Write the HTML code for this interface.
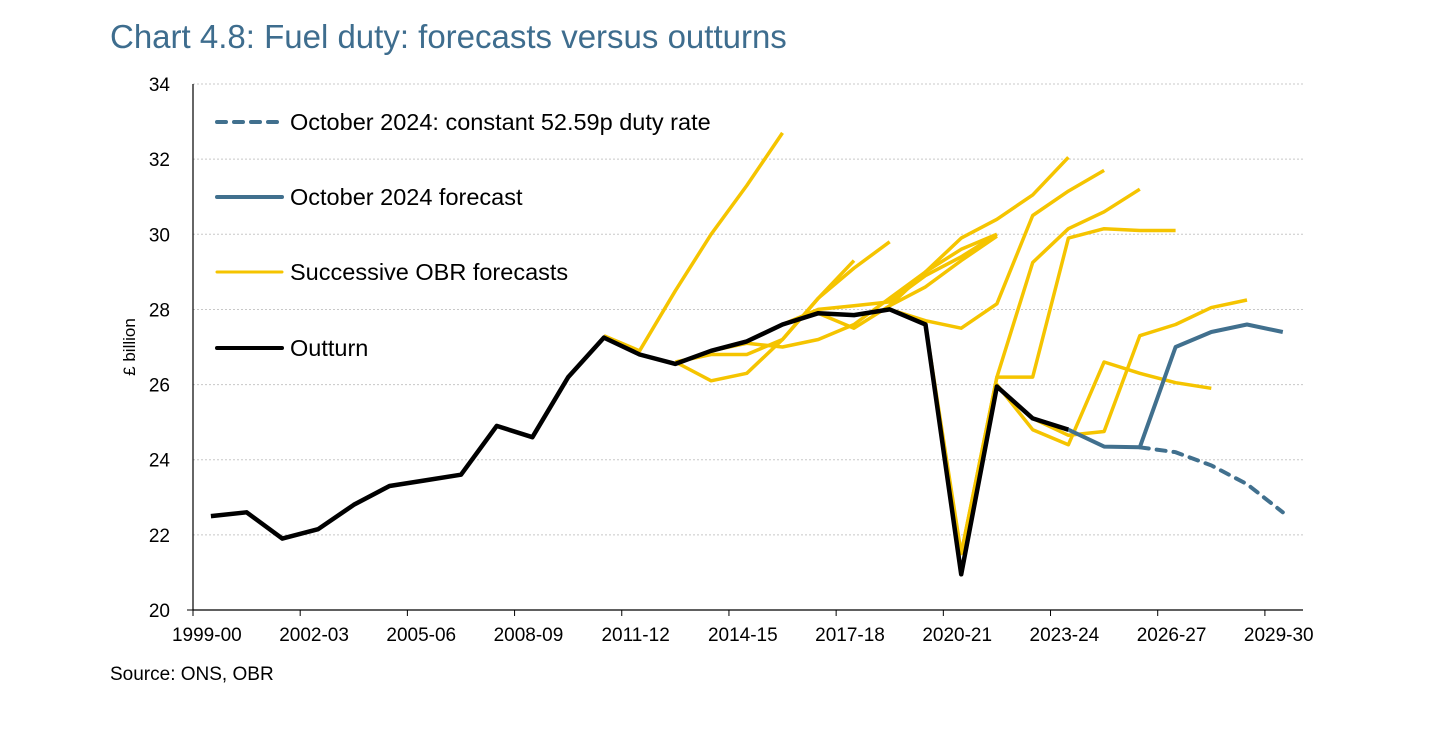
<!DOCTYPE html>
<html><head><meta charset="utf-8"><style>
body{margin:0;background:#fff;font-family:"Liberation Sans",sans-serif;}
</style></head><body>
<svg width="1456" height="742" viewBox="0 0 1456 742" xmlns="http://www.w3.org/2000/svg">
<text x="110" y="48" font-size="33" fill="#3e6d8e" font-family="Liberation Sans, sans-serif">Chart 4.8: Fuel duty: forecasts versus outturns</text>
<g id="grid"></g>
<g id="axes"></g>
<g id="series"></g>
<g id="legend"></g>
<text x="110" y="680" font-size="19" fill="#000">Source: ONS, OBR</text>
<text transform="translate(135,347) rotate(-90)" text-anchor="middle" font-size="17" fill="#000">£ billion</text>
</svg>
<script>
const categories = ["1999-00","2000-01","2001-02","2002-03","2003-04","2004-05","2005-06","2006-07","2007-08","2008-09","2009-10","2010-11","2011-12","2012-13","2013-14","2014-15","2015-16","2016-17","2017-18","2018-19","2019-20","2020-21","2021-22","2022-23","2023-24","2024-25","2025-26","2026-27","2027-28","2028-29","2029-30"];
const yTicks = [20,22,24,26,28,30,32,34];
const xTickLabels = ["1999-00","2002-03","2005-06","2008-09","2011-12","2014-15","2017-18","2020-21","2023-24","2026-27","2029-30"];
const outturn = [22.5,22.6,21.9,22.15,22.8,23.3,23.45,23.6,24.9,24.6,26.2,27.25,26.8,26.55,26.9,27.15,27.6,27.9,27.85,28.0,27.6,20.95,25.95,25.1,24.8];
const outturnStart = 0;
const oct2024 = [24.8,24.35,24.33,27.0,27.4,27.6,27.4];
const oct2024Start = 24;
const constantDuty = [24.33,24.2,23.85,23.35,22.6];
const constantDutyStart = 26;
const forecastStarts = [11,13,13,14,16,17,19,19,20,21,21,23];
const forecastValues = [
 [27.3,26.9,28.5,30.0,31.3,32.7],
 [26.6,26.1,26.3,27.2,28.3,29.3],
 [26.6,26.8,26.8,27.2,28.3,29.1,29.8],
 [26.9,27.1,27.0,27.2,27.6,28.3,29.0,29.6,30.0],
 [27.6,28.0,28.1,28.2,28.9,29.4,30.0],
 [27.9,27.5,28.1,28.6,29.3,29.95],
 [28.1,29.0,29.9,30.4,31.05,32.05],
 [28.0,27.7,27.5,28.15,30.5,31.15,31.7],
 [27.6,21.5,26.0,24.8,24.4,26.6,26.3,26.05,25.9],
 [21.5,26.2,29.25,30.15,30.6,31.2],
 [21.5,26.2,26.2,29.9,30.15,30.1,30.1],
 [25.1,24.65,24.75,27.3,27.6,28.05,28.25]
];
const NS="http://www.w3.org/2000/svg";
const X0=193, XW=35.73, Y0=610, YS=37.57;
function xPos(i){return X0+(i+0.5)*XW;}
function yPos(v){return Y0-(v-20)*YS;}
function mk(tag,parent,attrs){const e=document.createElementNS(NS,tag);for(const k in attrs)e.setAttribute(k,attrs[k]);parent.appendChild(e);return e;}
const grid=document.getElementById('grid'),axes=document.getElementById('axes'),series=document.getElementById('series'),legend=document.getElementById('legend');
yTicks.forEach(v=>{
 if(v>20){const g=mk('line',grid,{x1:193,x2:1303,y1:yPos(v),y2:yPos(v),stroke:'#c8c8c8','stroke-width':1,'stroke-dasharray':'2,2'});
 
 }
 const t=mk('text',axes,{x:170,y:yPos(v)+7,'text-anchor':'end','font-size':19,fill:'#000'});t.textContent=v;
 
 
});
mk('line',axes,{x1:187,x2:193,y1:610,y2:610,stroke:'#000','stroke-width':1});
const ya=mk('line',axes,{x1:193,x2:193,y1:84,y2:610,stroke:'#000','stroke-width':1.2});


const xa=mk('line',axes,{x1:193,x2:1303,y1:610,y2:610,stroke:'#000','stroke-width':1.2});


xTickLabels.forEach(lab=>{
 const i=categories.indexOf(lab);
 mk('line',axes,{x1:X0+i*XW,x2:X0+i*XW,y1:610,y2:616,stroke:'#000','stroke-width':1});
 const t=mk('text',axes,{x:xPos(i)-4,y:641,'text-anchor':'middle','font-size':19,fill:'#000'});t.textContent=lab;
 
 
});
function pts(vals,start){return vals.map((v,k)=>xPos(start+k).toFixed(1)+','+yPos(v).toFixed(1)).join(' ');}
forecastValues.forEach((vals,n)=>{
 const p=mk('polyline',series,{points:pts(vals,forecastStarts[n]),fill:'none',stroke:'#f5c400','stroke-width':3.5,'stroke-linejoin':'round'});
 
 
});
const pd=mk('polyline',series,{points:pts(constantDuty,constantDutyStart),fill:'none',stroke:'#41708e','stroke-width':4,'stroke-dasharray':'9,8','stroke-linecap':'round'});


const pb=mk('polyline',series,{points:pts(oct2024,oct2024Start),fill:'none',stroke:'#41708e','stroke-width':4,'stroke-linejoin':'round'});


const po=mk('polyline',series,{points:pts(outturn,outturnStart),fill:'none',stroke:'#000','stroke-width':4.5,'stroke-linejoin':'round'});


const legItems=[["October 2024: constant 52.59p duty rate","#41708e",true,122],["October 2024 forecast","#41708e",false,197],["Successive OBR forecasts","#f5c400",false,272],["Outturn","#000",false,348]];
legItems.forEach((it,n)=>{
 const g=mk('g',legend,{});
 
 
 const a={x1:217,x2:282,y1:it[3],y2:it[3],stroke:it[1],'stroke-width':it[1]=='#f5c400'?3:4,'stroke-linecap':'round'};
 if(it[2])a['stroke-dasharray']='9,8';
 mk('line',g,a);
 const t=mk('text',g,{x:290,y:it[3]+8,'font-size':23.5,fill:'#000'});t.textContent=it[0];
});
</script>
</body></html>
